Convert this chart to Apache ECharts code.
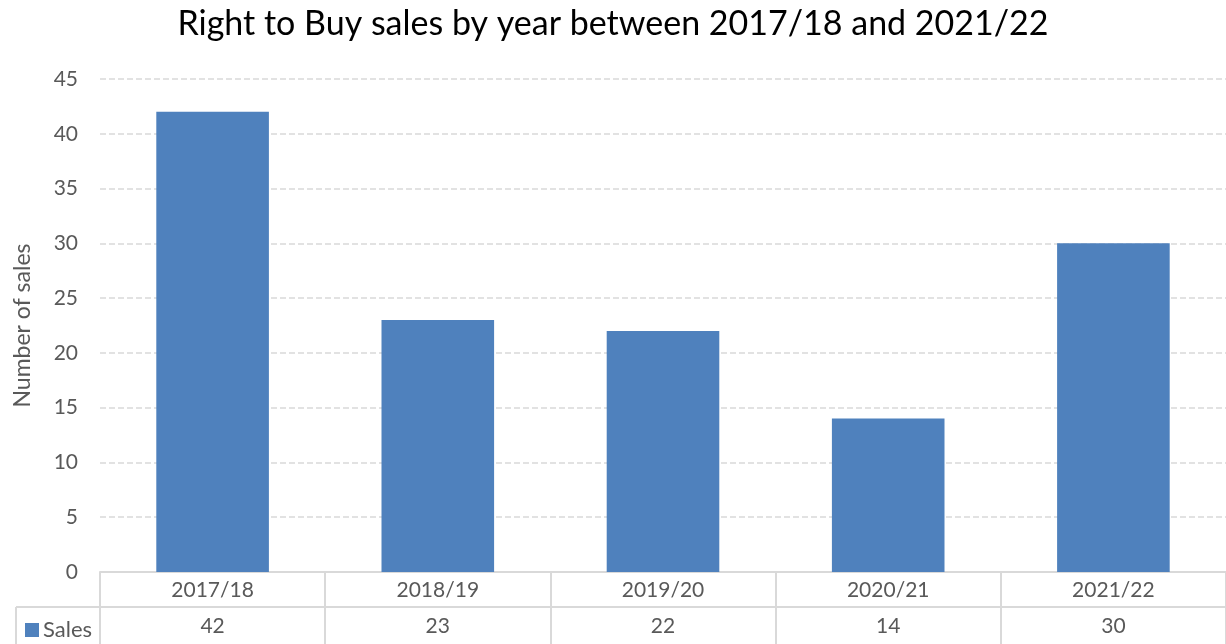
<!DOCTYPE html>
<html>
<head>
<meta charset="utf-8">
<script src="https://cdn.jsdelivr.net/npm/echarts@6/dist/echarts.min.js"></script>
<style>
  html, body { margin: 0; padding: 0; background: #fff; }
  #chart { width: 1226px; height: 644px; }
</style>
</head>
<body>
<div id="chart"></div>
<script>
// --- Data ---
const years = ["2017/18", "2018/19", "2019/20", "2020/21", "2021/22"];
const sales = [42, 23, 22, 14, 30];
const yTicks = { min: 0, max: 45, step: 5 };

// --- Styling ---
const FONT = "Lato";
const TEXT = "#595959";
const RULE = "#d9d9d9";

const chart = echarts.init(document.getElementById("chart"), null, { renderer: "canvas" });

chart.setOption({
  animation: false,
  textStyle: { fontFamily: FONT },
  title: {
    text: "Right to Buy sales by year between 2017/18 and 2021/22",
    left: "center",
    top: 2,
    textStyle: { fontFamily: FONT, fontSize: 34, fontWeight: 400, color: "#000" }
  },
  legend: {
    data: ["Sales"],
    left: 20,
    top: 614,
    icon: "rect",
    itemWidth: 14,
    itemHeight: 14,
    itemGap: 4,
    textStyle: { fontFamily: FONT, fontSize: 22, color: TEXT, padding: [0, 0, 0, -1] }
  },
  grid: { left: 100, right: 0, top: 79, bottom: 72 },
  xAxis: [
    {
      type: "category",
      data: years,
      position: "bottom",
      axisLine: { lineStyle: { color: RULE, width: 2 } },
      axisTick: { show: true, length: 72, lineStyle: { color: RULE, width: 2 } },
      axisLabel: { color: TEXT, fontFamily: FONT, fontSize: 21, margin: 8 }
    },
    {
      type: "category",
      data: years,
      position: "bottom",
      offset: 35,
      axisLine: { lineStyle: { color: RULE, width: 2 } },
      axisTick: { show: false },
      axisLabel: {
        color: TEXT, fontFamily: FONT, fontSize: 21, margin: 9,
        formatter: (v, i) => String(sales[i])
      }
    }
  ],
  yAxis: {
    type: "value",
    min: yTicks.min,
    max: yTicks.max,
    interval: yTicks.step,
    name: "Number of sales",
    nameLocation: "middle",
    nameGap: 66,
    nameTextStyle: { color: TEXT, fontFamily: FONT, fontSize: 23 },
    axisLine: { show: false },
    axisTick: { show: false },
    axisLabel: { color: TEXT, fontFamily: FONT, fontSize: 21, margin: 22 },
    splitLine: { lineStyle: { color: RULE, type: [6, 3], width: 1.5 } }
  },
  series: [
    {
      name: "Sales",
      type: "bar",
      data: sales,
      barCategoryGap: "50%",
      itemStyle: { color: "#4f81bd" }
    }
  ],
  // table frame for the legend cell
  graphic: [
    { type: "line", shape: { x1: 16, y1: 607, x2: 100, y2: 607 }, style: { stroke: RULE, lineWidth: 2 } },
    { type: "line", shape: { x1: 16, y1: 607, x2: 16, y2: 644 }, style: { stroke: RULE, lineWidth: 2 } }
  ]
});
</script>
</body>
</html>
